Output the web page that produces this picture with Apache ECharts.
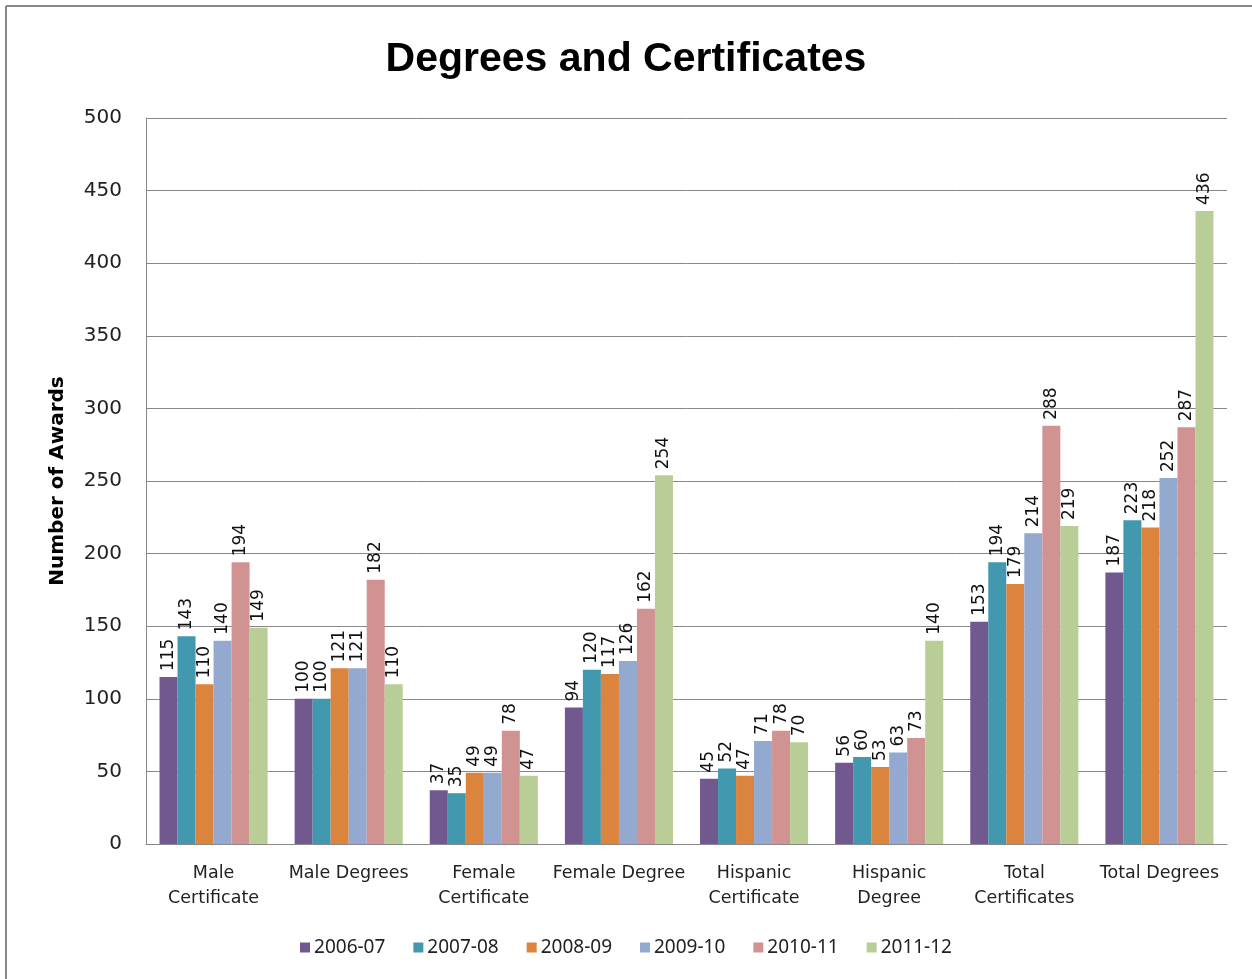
<!DOCTYPE html>
<html><head><meta charset="utf-8">
<script src="https://cdn.jsdelivr.net/npm/echarts@6/dist/echarts.min.js"></script>
<style>html,body{margin:0;padding:0;background:#fff}#c{width:1252px;height:979px}</style>
</head><body><div id="c"></div>
<script>
const categories = ["Male\nCertificate","Male Degrees","Female\nCertificate","Female Degree","Hispanic\nCertificate","Hispanic\nDegree","Total\nCertificates","Total Degrees"];
const seriesNames = ["2006-07","2007-08","2008-09","2009-10","2010-11","2011-12"];
const s0607 = [115,100,37,94,45,56,153,187];
const s0708 = [143,100,35,120,52,60,194,223];
const s0809 = [110,121,49,117,47,53,179,218];
const s0910 = [140,121,49,126,71,63,214,252];
const s1011 = [194,182,78,162,78,73,288,287];
const s1112 = [149,110,47,254,70,140,219,436];
const colors = ["#71588F","#4198AF","#DB843D","#93A9CF","#D19392","#B9CD96"];
const allData = [s0607,s0708,s0809,s0910,s1011,s1112];

const chart = echarts.init(document.getElementById('c'));
chart.setOption({
  animation:false,
  color:colors,
  title:{text:"Degrees and Certificates",left:'center',top:34,
    textStyle:{fontFamily:"Liberation Sans",fontWeight:'bold',fontSize:41,color:'#000'}},
  graphic:[
    {type:'line',shape:{x1:6,y1:6,x2:1252,y2:6},style:{stroke:'#888',lineWidth:2}},
    {type:'line',shape:{x1:6,y1:6,x2:6,y2:979},style:{stroke:'#888',lineWidth:2}}
  ],
  legend:{bottom:17,left:'center',itemWidth:10,itemHeight:10,itemGap:28,icon:'rect',
    textStyle:{fontFamily:"Noto Sans",fontSize:19,color:'#222',padding:[0,0,0,-1]}},
  grid:{left:146,top:118,right:25,bottom:135,containLabel:false},
  xAxis:{type:'category',data:categories,
    axisLine:{lineStyle:{color:'#888',width:1}},axisTick:{show:false},
    axisLabel:{fontFamily:"DejaVu Sans",fontSize:17.5,color:'#222',lineHeight:25,margin:17,interval:0}},
  yAxis:{type:'value',min:0,max:500,interval:50,
    name:"Number of Awards",nameLocation:'middle',nameGap:78,nameRotate:90,
    nameTextStyle:{fontFamily:"DejaVu Sans",fontWeight:'bold',fontSize:20,color:'#000'},
    axisLine:{show:true,lineStyle:{color:'#888'}},axisTick:{show:false},
    splitLine:{lineStyle:{color:'#888'}},
    axisLabel:{fontFamily:"DejaVu Sans",fontSize:20,color:'#222',margin:24}},
  series: seriesNames.map((n,i)=>({
    name:n,type:'bar',data:allData[i],barGap:'0%',barCategoryGap:'20%',
    label:{show:true,position:'top',rotate:90,align:'left',verticalAlign:'middle',distance:6,
      fontFamily:"DejaVu Sans",fontSize:17,color:'#111'}
  }))
});
</script></body></html>
